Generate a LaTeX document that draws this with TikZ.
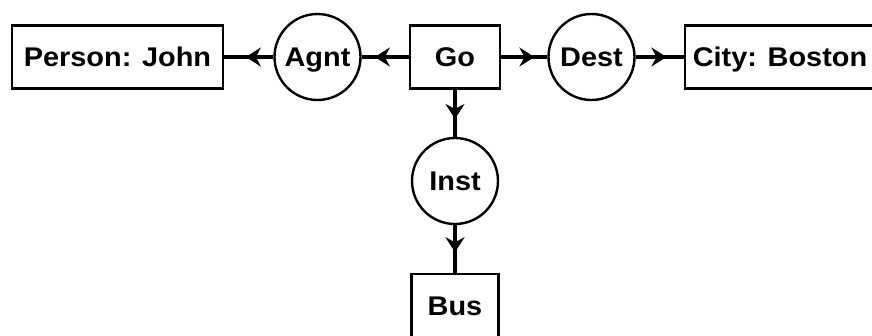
\documentclass[tikz,border=0pt]{standalone}
\usepackage{fontspec}
\setmainfont{Liberation Sans}
\newfontfamily\lblfont[FakeStretch=1.07]{Liberation Sans}
\usetikzlibrary{arrows.meta,decorations.markings}
\tikzset{
  lbl/.style={font=\lblfont\fontsize{27}{30}\selectfont\bfseries, text height=19.5pt, text depth=0pt},
  concept/.style={draw, lbl, line width=2.6pt, minimum height=63pt, inner sep=0pt},
  relation/.style={draw, lbl, circle, line width=2.4pt, minimum size=86pt, inner sep=0pt},
  link/.style={line width=3.4pt, postaction={decorate},
    decoration={markings, mark=at position #1 with {\arrow{Stealth[length=15pt,width=19pt,inset=5pt]}}}},
}
\begin{document}
\begin{tikzpicture}[x=1pt,y=-1pt]
\useasboundingbox (0,0) rectangle (872,335);
\clip (0,0) rectangle (872,335);
\node[concept, minimum width=211pt] (person) at (117.5,57) {Person: John};
\node[relation] (agnt) at (317.5,57) {Agnt};
\node[concept, minimum width=90pt] (go) at (455,57) {Go};
\node[relation] (dest) at (591.5,57) {Dest};
\node[concept, minimum width=190pt] (city) at (780,57) {City: Boston};
\node[relation] (inst) at (455,181) {Inst};
\node[concept, minimum width=87pt] (bus) at (455,305.5) {Bus};
\draw[link=0.56] (agnt) -- (person);
\draw[link=0.72] (go) -- (agnt);
\draw[link=0.72] (go) -- (dest);
\draw[link=0.64] (dest) -- (city);
\draw[link=0.62] (go) -- (inst);
\draw[link=0.57] (inst) -- (bus);
\end{tikzpicture}
\end{document}
